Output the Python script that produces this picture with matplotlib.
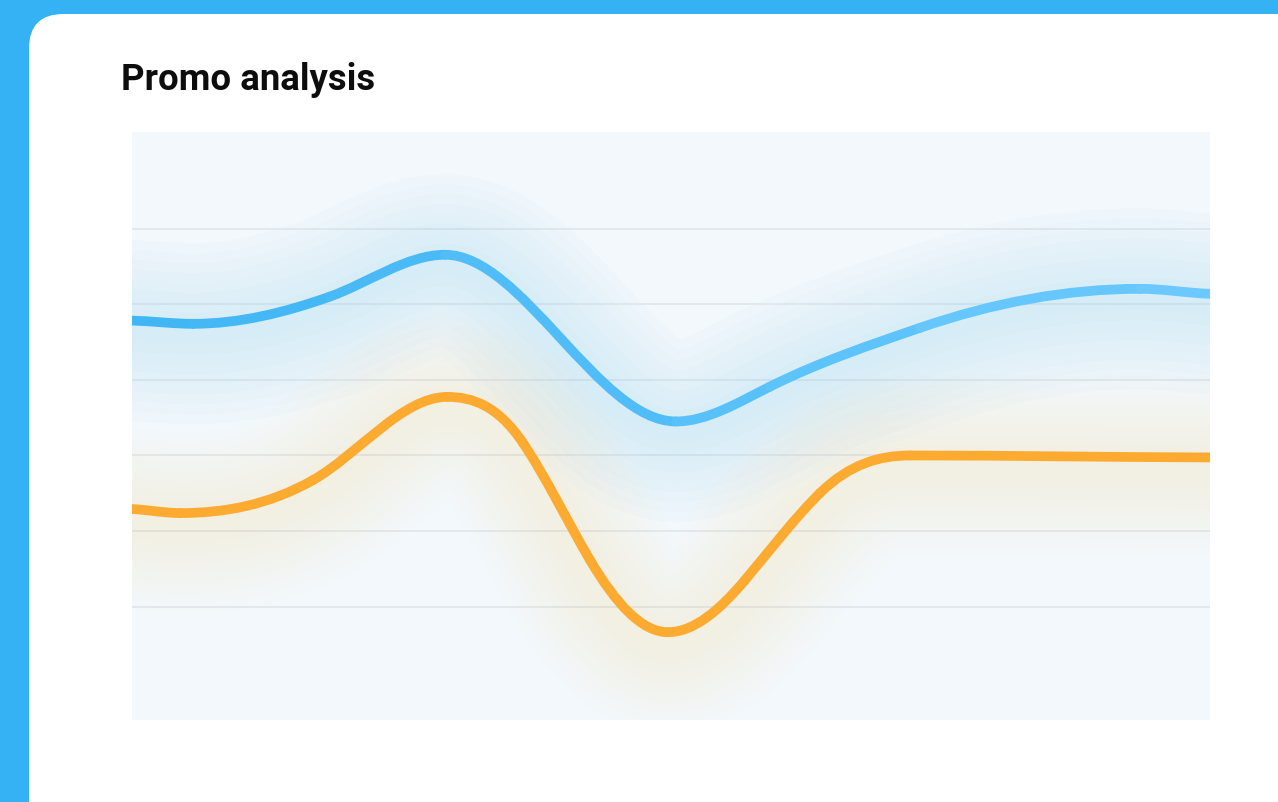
import matplotlib.pyplot as plt
import numpy as np
from matplotlib.patches import FancyBboxPatch, PathPatch
from matplotlib.path import Path
from matplotlib.colors import LinearSegmentedColormap
import matplotlib.transforms as mtransforms

TITLE = "Promo analysis"

# x = position within the period (0-100), y = value
blue_x = [0, 5.66, 18.37, 29.04, 50.46, 59.18, 73.10, 93.51, 100]
blue_y = [47.85, 47.42, 51.03, 56.56, 34.50, 39.11, 46.89, 52.05, 51.39]

orange_x = [0, 4.45, 16.79, 29.22, 36.27, 42.49, 49.72, 56.86, 63.82, 72.17, 100]
orange_y = [22.91, 22.38, 26.75, 37.75, 31.66, 16.16, 6.62, 13.51, 25.03, 30.0, 29.74]

grid_values = [10, 20, 30, 40, 50, 60]

BG = "#35b2f3"
PLOT_BG = "#f2f8fc"
GRID = "#dfe6ea"
BLUE_LEFT = "#3fb5f4"
BLUE_RIGHT = "#6ccaff"
ORANGE = "#fdab30"
TENSION = 1.3


def spline_segments(x, y):
    """Cubic hermite: flat at turning points, scaled centred slope elsewhere."""
    x = np.asarray(x, float)
    y = np.asarray(y, float)
    h = np.diff(x)
    d = np.diff(y) / h
    m = np.zeros_like(y)
    m[0], m[-1] = d[0] * 0.5, d[-1] * 0.5
    for i in range(1, len(x) - 1):
        if d[i - 1] * d[i] > 0:
            m[i] = TENSION * (y[i + 1] - y[i - 1]) / (x[i + 1] - x[i - 1])
    segs = []
    for i in range(len(x) - 1):
        segs.append([(x[i], y[i]),
                     (x[i] + h[i] / 3, y[i] + m[i] * h[i] / 3),
                     (x[i + 1] - h[i] / 3, y[i + 1] - m[i + 1] * h[i] / 3),
                     (x[i + 1], y[i + 1])])
    return segs


def full_path(segs):
    verts = [segs[0][0]]
    codes = [Path.MOVETO]
    for s in segs:
        verts += s[1:]
        codes += [Path.CURVE4] * 3
    return Path(verts, codes)


fig = plt.figure(figsize=(12.78, 8.02), dpi=100)
fig.patch.set_facecolor(BG)

W, H = 1278, 802
card = FancyBboxPatch((29 / W, -0.05), 1.2, 1 - 14 / H + 0.05,
                      boxstyle="round,pad=0,rounding_size=0.027",
                      transform=fig.transFigure, facecolor="white",
                      edgecolor="none", mutation_aspect=W / H, zorder=-5)
fig.patches.append(card)

fig.text(121 / W, 1 - 89.5 / H, TITLE, fontsize=26.3, fontfamily="Roboto",
         fontweight="bold", color="#0d0d0d", va="baseline", ha="left")

ax = fig.add_axes([132 / W, (H - 720) / H, 1078 / W, 588 / H])
ax.set_facecolor(PLOT_BG)
ax.set_xlim(0, 100)
ax.set_ylim(-5, 72.8)
for v in grid_values:
    ax.axhline(v, color=GRID, lw=1.2, zorder=1)
ax.set_xticks([])
ax.set_yticks([])
for s in ax.spines.values():
    s.set_visible(False)

shift = mtransforms.offset_copy(ax.transData, fig=fig, x=0, y=-10, units="dots")

blue_cmap = LinearSegmentedColormap.from_list("b", [BLUE_LEFT, BLUE_RIGHT])
series = [
    (blue_x, blue_y, "#8fd3f7", lambda t: blue_cmap(t)),
    (orange_x, orange_y, "#f2dca8", lambda t: ORANGE),
]

# soft glow under the lines
for xs, ys, glow, _ in series:
    p = full_path(spline_segments(xs, ys))
    for lw in np.linspace(16, 130, 9):
        ax.add_patch(PathPatch(p, facecolor="none", edgecolor=glow,
                               lw=lw, alpha=0.032, capstyle="round",
                               joinstyle="round", transform=shift, zorder=2))

for xs, ys, _, colfn in series:
    for seg in spline_segments(xs, ys):
        t = (seg[0][0] + seg[-1][0]) / 200
        p = Path(seg, [Path.MOVETO] + [Path.CURVE4] * 3)
        ax.add_patch(PathPatch(p, facecolor="none", edgecolor=colfn(t),
                               lw=7, capstyle="round", joinstyle="round",
                               zorder=3))

fig.savefig("out.png", dpi=100, facecolor=fig.get_facecolor())
